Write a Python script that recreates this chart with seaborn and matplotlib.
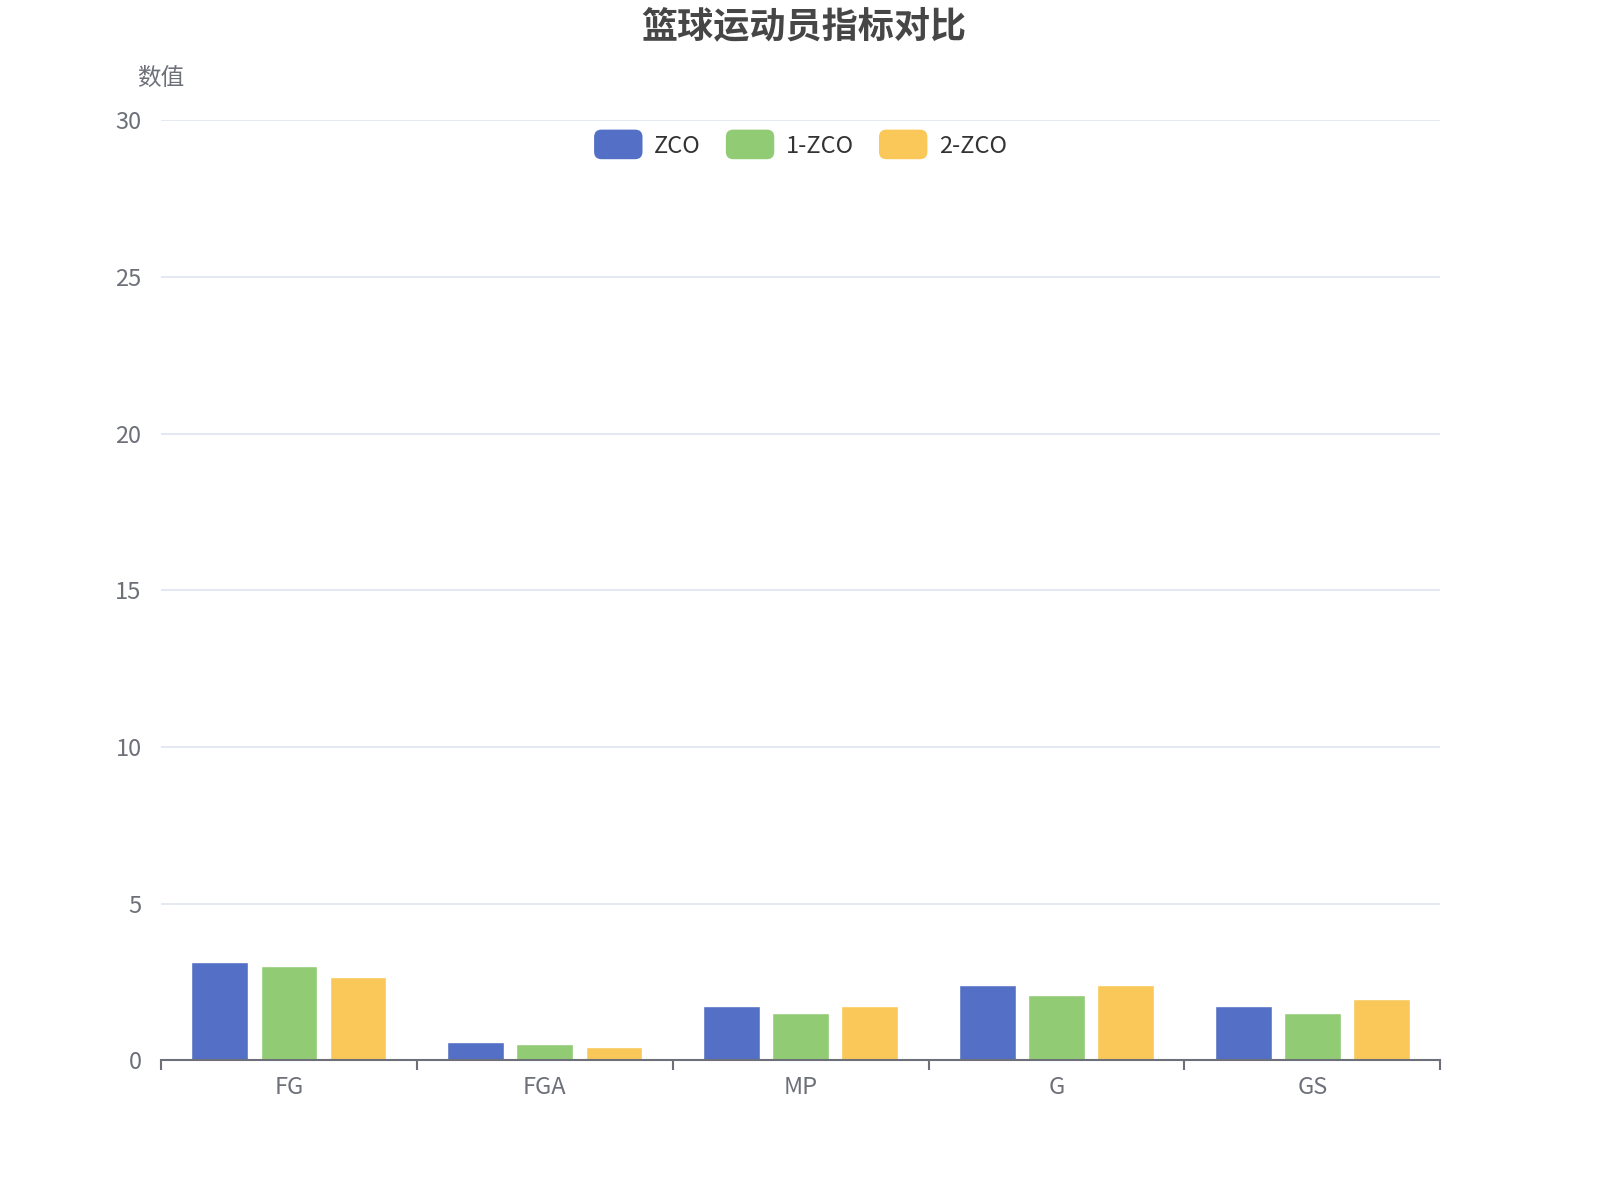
import seaborn as sns
import numpy as np
import pandas as pd
import matplotlib.pyplot as plt
from matplotlib.patches import FancyBboxPatch
from matplotlib.legend_handler import HandlerPatch

sns.set_theme(style="white")
plt.rcParams['font.family'] = ['Noto Sans CJK SC', 'DejaVu Sans']

# 数据
categories = ["FG", "FGA", "MP", "G", "GS"]
series_names = ["ZCO", "1-ZCO", "2-ZCO"]
zco = [3.13, 0.60, 1.75, 2.41, 1.75]
zco_1 = [3.00, 0.53, 1.52, 2.08, 1.52]
zco_2 = [2.65, 0.42, 1.75, 2.41, 1.97]
colors = ["#5470c6", "#91cc75", "#fac858"]

df = pd.DataFrame({
    "cat": categories * 3,
    "series": [s for s in series_names for _ in categories],
    "val": zco + zco_1 + zco_2,
})

fig = plt.figure(figsize=(16, 12), dpi=100)
ax = fig.add_axes([0.1006, 0.1163, 0.7996, 0.7836])

sns.barplot(data=df, x="cat", y="val", hue="series", palette=colors,
            width=0.81, gap=0.18, ax=ax, saturation=1, legend=False)

ax.set_ylim(0, 30)
ax.set_xlim(-0.5, len(categories) - 0.5)
ax.set_yticks([0, 5, 10, 15, 20, 25, 30])
ax.yaxis.grid(True, color="#E0E6F1", linewidth=1.3)
ax.set_axisbelow(True)
for s in ["top", "right", "left"]:
    ax.spines[s].set_visible(False)
ax.spines["bottom"].set_color("#6E7079")
ax.spines["bottom"].set_linewidth(1.5)
ax.set_xlabel("")
ax.set_ylabel("")
ax.tick_params(axis="y", length=0, labelsize=17, labelcolor="#6E7079", pad=14)
ax.tick_params(axis="x", which="major", length=0, labelsize=17, labelcolor="#6E7079", pad=11)
ax.set_xticks(np.arange(-0.5, len(categories)), minor=True)
ax.tick_params(axis="x", which="minor", bottom=True, length=7, width=1.5,
               color="#6E7079", direction="out")

fig.text(0.1006, 0.935, "数值", fontsize=17, color="#6E7079", ha="center", va="center")
fig.text(0.5025, 0.978, "篮球运动员指标对比", fontsize=26, fontweight="bold",
         color="#464646", ha="center", va="center")


class RoundHandler(HandlerPatch):
    def create_artists(self, legend, orig_handle, xdescent, ydescent, width, height, fontsize, trans):
        p = FancyBboxPatch((-xdescent, -ydescent - height * 0.2), width, height * 1.4,
                           boxstyle="round,pad=0,rounding_size=%f" % (height * 0.35),
                           facecolor=orig_handle.get_facecolor(), edgecolor="none",
                           transform=trans)
        return [p]


handles = [plt.Rectangle((0, 0), 1, 1, facecolor=c) for c in colors]
ax.legend(handles, series_names, loc="upper center", bbox_to_anchor=(0.5, 1.008),
          ncol=3, frameon=False, fontsize=17, handlelength=2.05, handleheight=1.0,
          handletextpad=0.5, columnspacing=1.05, labelcolor="#333333",
          handler_map={plt.Rectangle: RoundHandler()})

fig.savefig("out.png", dpi=100, facecolor="white")
